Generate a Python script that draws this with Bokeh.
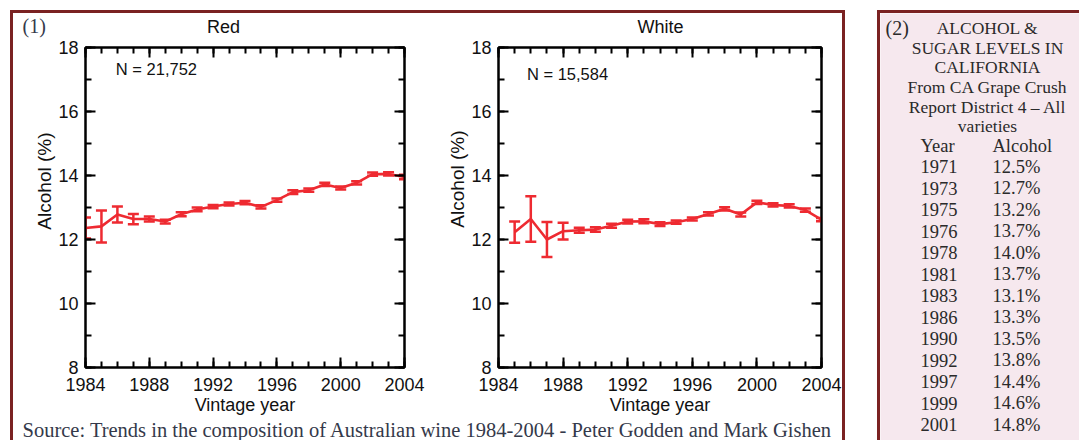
from bokeh.plotting import figure
from bokeh.models import (ColumnDataSource, Whisker, Label, LinearAxis, Range1d,
                          FixedTicker, Spacer, Title)
from bokeh.layouts import row, column
from bokeh.embed import file_html
from bokeh.resources import INLINE
from bokeh.core.properties import value

# ---------------- data ----------------
red_years = list(range(1984, 2005))
red_alcohol = [12.36, 12.41, 12.78, 12.64, 12.64, 12.56, 12.79, 12.94, 13.03, 13.11, 13.15,
               13.02, 13.23, 13.48, 13.54, 13.72, 13.61, 13.77, 14.04, 14.05, 13.95]
red_err = [0.33, 0.50, 0.25, 0.16, 0.08, 0.06, 0.06, 0.06, 0.05, 0.05, 0.05,
           0.05, 0.05, 0.06, 0.05, 0.05, 0.05, 0.05, 0.05, 0.05, 0.07]

white_years = list(range(1985, 2005))
white_alcohol = [12.23, 12.64, 12.00, 12.26, 12.29, 12.31, 12.43, 12.56, 12.57, 12.48,
                 12.54, 12.64, 12.80, 12.96, 12.78, 13.16, 13.08, 13.05, 12.92, 12.62]
white_err = [0.33, 0.71, 0.55, 0.26, 0.08, 0.07, 0.06, 0.06, 0.06, 0.06,
             0.05, 0.05, 0.05, 0.05, 0.06, 0.05, 0.05, 0.05, 0.05, 0.05]

x_major = [1984, 1988, 1992, 1996, 2000, 2004]
y_major = [8, 10, 12, 14, 16, 18]

chart_titles = ["Red", "White"]
table_title = ["ALCOHOL &", "SUGAR LEVELS IN", "CALIFORNIA", "From CA Grape Crush",
               "Report District 4 \u2013 All", "varieties"]
table_header = ["Year", "Alcohol"]
ca_years = ["1971", "1973", "1975", "1976", "1978", "1981", "1983", "1986", "1990",
            "1992", "1997", "1999", "2001"]
ca_alcohol = ["12.5%", "12.7%", "13.2%", "13.7%", "14.0%", "13.7%", "13.1%", "13.3%",
              "13.5%", "13.8%", "14.4%", "14.6%", "14.8%"]

SOURCE = "Source: Trends in the composition of Australian wine 1984-2004 - Peter Godden and Mark Gishen"

# ---------------- style ----------------
RED = "#ee2a31"
BORDER = "#7a2222"
PINK = "#f6e8ee"
SANS = "Liberation Sans Narrow, Liberation Sans, sans-serif"
SERIF = "Liberation Serif"
SERIF_COLOR = "#34394a"
INK = "#111111"


def make_chart(xs, ys, errs, n_text, n_x, n_y, w, h, ml, mr, mt, mb, ylab_offset):
    p = figure(width=w, height=h,
               x_range=Range1d(1984, 2004), y_range=Range1d(8, 18),
               min_border_left=ml, min_border_right=mr, min_border_top=mt, min_border_bottom=mb,
               output_backend="svg", toolbar_location=None,
               background_fill_color="white", border_fill_color="white")
    p.title.visible = False
    p.xgrid.visible = False
    p.ygrid.visible = False
    p.outline_line_color = "black"
    p.outline_line_width = 2

    bottom = p.below[0]
    left = p.left[0]
    top = LinearAxis()
    right = LinearAxis()
    p.add_layout(top, "above")
    p.add_layout(right, "right")

    xt = FixedTicker(ticks=x_major, minor_ticks=list(range(1984, 2005)))
    yt = FixedTicker(ticks=y_major, minor_ticks=list(range(8, 19)))

    for ax, tk in ((bottom, xt), (top, xt), (left, yt), (right, yt)):
        ax.ticker = tk
        ax.axis_line_color = "black"
        ax.axis_line_width = 2
        ax.major_tick_in = 10
        ax.major_tick_out = 0
        ax.minor_tick_in = 6
        ax.minor_tick_out = 0
        ax.major_tick_line_width = 2
        ax.minor_tick_line_width = 2
        ax.major_tick_line_color = "black"
        ax.minor_tick_line_color = "black"
        ax.major_label_text_font = SANS
        ax.major_label_text_font_size = "18px"
        ax.major_label_text_color = INK

    for ax in (top, right):
        ax.major_label_text_color = None
        ax.major_label_text_font_size = "1px"
        ax.major_label_standoff = 0

    bottom.major_label_standoff = 10
    bottom.axis_label = "Vintage year"
    bottom.axis_label_standoff = 1
    bottom.axis_label_text_font = SANS
    bottom.axis_label_text_font_size = "18px"
    bottom.axis_label_text_font_style = "normal"
    bottom.axis_label_text_color = INK
    left.major_label_standoff = 7

    ylab = Title(text="Alcohol (%)", align="right", offset=ylab_offset, standoff=2,
                 text_font=SANS, text_font_size="19px", text_font_style="normal",
                 text_color=INK)
    p.add_layout(ylab, "left")

    src = ColumnDataSource(dict(x=xs, y=ys,
                                lower=[v - e for v, e in zip(ys, errs)],
                                upper=[v + e for v, e in zip(ys, errs)]))
    p.line("x", "y", source=src, line_color=RED, line_width=2.6)
    wk = Whisker(source=src, base="x", lower="lower", upper="upper",
                 line_color=RED, line_width=2.5)
    for hd in (wk.upper_head, wk.lower_head):
        hd.size = 11
        hd.line_color = RED
        hd.line_width = 2.5
    p.add_layout(wk)

    p.add_layout(Label(x=n_x, y=n_y, text=n_text, text_baseline="middle",
                       text_font=SANS, text_font_size="16.5px", text_color=INK))
    return p


# chart canvases: y 38..421, red x 13..428, white x 428..842
pR = make_chart(red_years, red_alcohol, red_err, "N = 21,752", 1985.9, 17.34,
                415, 383, 72, 24, 9, 54, 85)
pW = make_chart(white_years, white_alcohol, white_err, "N = 15,584", 1985.76, 17.17,
                414, 383, 70, 21, 7, 53, 83)

# header strip above the charts (pixel coordinates, y downward)
pH = figure(width=829, height=25, x_range=Range1d(0, 829), y_range=Range1d(25, 0),
            min_border=0, x_axis_location=None, y_axis_location=None,
            output_backend="svg", toolbar_location=None, outline_line_color=None)
pH.xgrid.visible = False
pH.ygrid.visible = False
pH.text(x=[210, 647], y=[13, 13], text=chart_titles, text_font=value(SANS),
        text_font_size="18px", text_color=INK, text_align="center", text_baseline="middle")
pH.add_layout(Label(x=9, y=12, text="(1)", text_font=SERIF, text_font_size="20px",
                    text_color=SERIF_COLOR, text_baseline="middle"))

# source strip
pS = figure(width=829, height=19, x_range=Range1d(0, 829), y_range=Range1d(19, 0),
            min_border=0, x_axis_location=None, y_axis_location=None,
            output_backend="svg", toolbar_location=None, outline_line_color=None)
pS.xgrid.visible = False
pS.ygrid.visible = False
pS.add_layout(Label(x=9, y=8, text=SOURCE, text_font=SERIF, text_font_size="20.5px",
                    text_color=SERIF_COLOR, text_baseline="middle"))

# table panel
pT = figure(width=199, height=427, x_range=Range1d(0, 199), y_range=Range1d(427, 0),
            min_border=0, x_axis_location=None, y_axis_location=None,
            output_backend="svg", toolbar_location=None, outline_line_color=None,
            background_fill_color=PINK, border_fill_color=PINK)
pT.xgrid.visible = False
pT.ygrid.visible = False

TXT = "#2a2a2a"
pT.text(x=[5], y=[14.5], text=["(2)"], text_font=value(SERIF), text_font_size="20px",
        text_color=TXT, text_baseline="alphabetic")
title_src = ColumnDataSource(dict(x=[107] * len(table_title),
                                  y=[14.5 + 19.64 * i for i in range(len(table_title))],
                                  t=table_title))
pT.text(x="x", y="y", text="t", source=title_src, text_font=value(SERIF),
        text_font_size="17.5px", text_color=TXT, text_align="center", text_baseline="alphabetic")
pT.text(x=[40, 112], y=[132.7, 132.7], text=table_header, text_font=value(SERIF),
        text_font_size="18.5px", text_color=TXT, text_baseline="alphabetic")
rows_src = ColumnDataSource(dict(xy=[40] * len(ca_years), xa=[112] * len(ca_years),
                                 y=[153.3 + 21.5 * i for i in range(len(ca_years))],
                                 yr=ca_years, al=ca_alcohol))
pT.text(x="xy", y="y", text="yr", source=rows_src, text_font=value(SERIF),
        text_font_size="18.5px", text_color=TXT, text_baseline="alphabetic")
pT.text(x="xa", y="y", text="al", source=rows_src, text_font=value(SERIF),
        text_font_size="18.5px", text_color=TXT, text_baseline="alphabetic")


def bar(w, h):
    return Spacer(width=w, height=h, styles={"background-color": BORDER})


inner = column(pH, row(pR, pW), pS)
panel1 = column(bar(835, 3), row(bar(3, 427), inner, bar(3, 427)))
panel2 = column(bar(202, 3), row(bar(3, 427), pT))

page = row(Spacer(width=10), column(Spacer(height=10), panel1), Spacer(width=32),
           column(Spacer(height=10), panel2))

open("out.html", "w").write(file_html(page, INLINE))
